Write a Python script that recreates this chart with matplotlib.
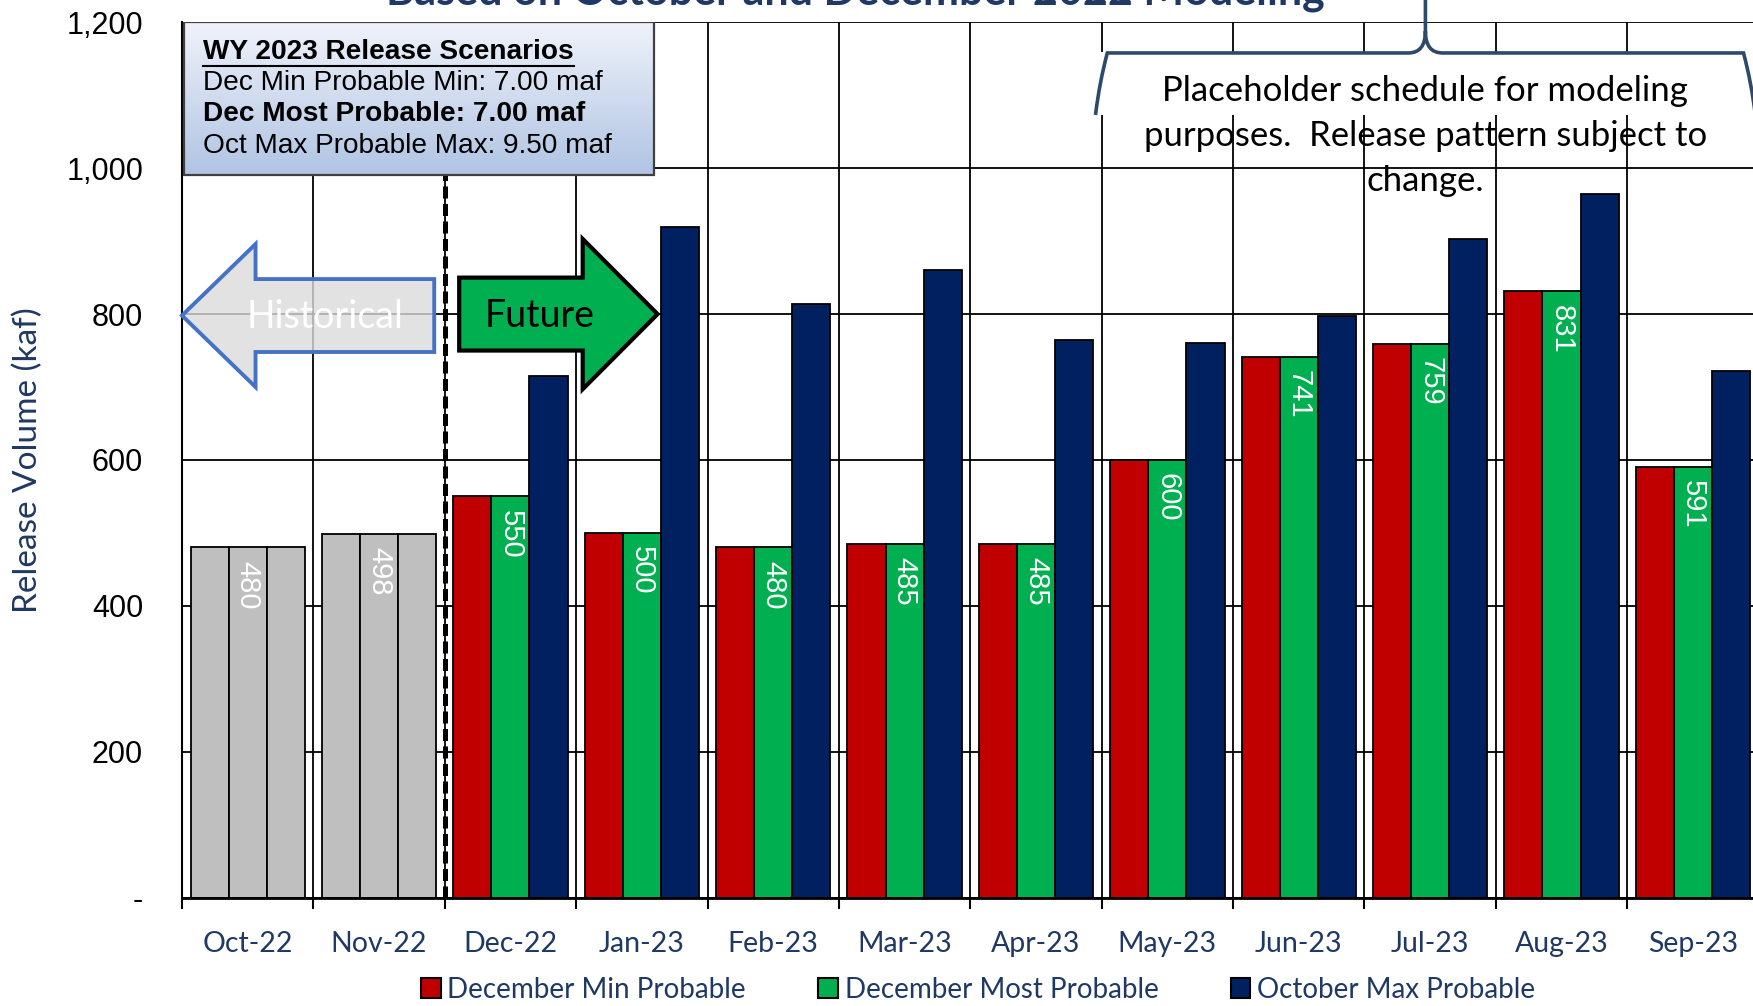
import matplotlib
matplotlib.use('Agg')
import matplotlib.pyplot as plt
import numpy as np
from matplotlib.patches import Polygon, Rectangle, Patch, PathPatch
from matplotlib.path import Path
from matplotlib.ticker import FuncFormatter, FixedLocator

months = ['Oct-22', 'Nov-22', 'Dec-22', 'Jan-23', 'Feb-23', 'Mar-23',
          'Apr-23', 'May-23', 'Jun-23', 'Jul-23', 'Aug-23', 'Sep-23']
hist_vals = [480, 498]
dec_min = [550, 500, 480, 485, 485, 600, 741, 759, 831, 591]
dec_most = [550, 500, 480, 485, 485, 600, 741, 759, 831, 591]
oct_max = [715, 919, 814, 860, 765, 761, 798, 903, 965, 722]
series_names = ['December Min Probable', 'December Most Probable', 'October Max Probable']
series_colors = ['#C00000', '#00B050', '#002060']
box_lines = ['WY 2023 Release Scenarios',
             'Dec Min Probable Min: 7.00 maf',
             'Dec Most Probable: 7.00 maf',
             'Oct Max Probable Max: 9.50 maf']
note = 'Placeholder schedule for modeling\npurposes.  Release pattern subject to\nchange.'

navy = '#1F3864'
arial = ['Liberation Sans', 'DejaVu Sans']
calib = ['Lato', 'DejaVu Sans']

fig = plt.figure(figsize=(17.53, 10.06), dpi=100)
ax = fig.add_axes([0.1038, 0.1078, 0.8994, 0.870])

x = np.arange(len(months)) + 0.5
xh = x[:2]
xf = x[2:]
w = 0.29

# historical months: three grey bars each
for off in (-w, 0, w):
    ax.bar(xh + off, hist_vals, w, color='#BFBFBF', edgecolor='black', lw=1.3, zorder=2)
for xi, v in zip(xh, hist_vals):
    ax.text(xi, v - 18, str(v), rotation=270, ha='center', va='top', color='white',
            fontsize=21, family=arial, zorder=5)

for vals, off, c in zip([dec_min, dec_most, oct_max], (-w, 0, w), series_colors):
    ax.bar(xf + off, vals, w, color=c, edgecolor='black', lw=1.3, zorder=2)
for xi, v in zip(xf, dec_most):
    ax.text(xi, v - 18, str(v), rotation=270, ha='center', va='top', color='white',
            fontsize=21, family=arial, zorder=5)

ax.set_xlim(0, 12)
ax.set_ylim(0, 1200)
ax.xaxis.set_major_locator(FixedLocator(np.arange(13)))
ax.xaxis.set_minor_locator(FixedLocator(x))
ax.set_xticklabels([], minor=False)
ax.set_xticklabels(months, minor=True)
ax.tick_params(axis='x', which='major', length=8, width=1.5, direction='out', color='black')
ax.tick_params(axis='x', which='minor', length=0, pad=24, labelsize=20.5, labelcolor=navy)
for lab in ax.get_xticklabels(minor=True):
    lab.set_family(calib)
ax.set_yticks(np.arange(0, 1201, 200))
ax.yaxis.set_major_formatter(FuncFormatter(lambda v, p: '-' if v == 0 else f'{v:,.0f}'))
ax.tick_params(axis='y', length=0, pad=28, labelsize=22)
for lab in ax.get_yticklabels():
    lab.set_family(arial)
ax.grid(True, which='major', color='black', lw=1.3)
ax.set_axisbelow(True)
for s in ['top', 'right']:
    ax.spines[s].set_visible(False)
ax.spines['left'].set_linewidth(1.5)
ax.spines['bottom'].set_linewidth(2)

ax.set_ylabel('Release Volume (kaf)', fontsize=24, color=navy, family=calib, va='center')
ax.yaxis.set_label_coords(-0.098, 0.5)

# history / future divider
ax.plot([2, 2], [0, 1200], color='black', lw=3.6, dashes=(2.4, 1.1), zorder=3)

def arrow_pts(tail, tip, base, yc, sh, hh):
    return [(tail, yc - sh), (base, yc - sh), (base, yc - hh), (tip, yc),
            (base, yc + hh), (base, yc + sh), (tail, yc + sh)]

ax.add_patch(Polygon(arrow_pts(1.92, 0.0, 0.56, 798, 50, 98), closed=True,
                     facecolor=(0.86, 0.86, 0.86, 0.8), edgecolor='#4472C4', lw=2.8,
                     joinstyle='miter', zorder=4, clip_on=False))
ax.text(1.09, 796, 'Historical', ha='center', va='center', color='white',
        fontsize=27, family=calib, zorder=5)
ax.add_patch(Polygon(arrow_pts(2.11, 3.62, 3.05, 800, 50, 103), closed=True,
                     facecolor='#00B050', edgecolor='black', lw=3,
                     joinstyle='miter', zorder=4))
ax.text(2.72, 797, 'Future', ha='center', va='center', color='black',
        fontsize=27, family=calib, zorder=5)

# scenario box with gradient
bx0, bx1, by0, by1 = 0.017, 3.59, 990, 1200
rect = Rectangle((bx0, by0), bx1 - bx0, by1 - by0, facecolor='none',
                 edgecolor='#404040', lw=1.6, zorder=7)
top_c = np.array([0.94, 0.95, 0.98])
bot_c = np.array([0.69, 0.77, 0.89])
t = np.linspace(0, 1, 100)[:, None, None]
grad = top_c * (1 - t) + bot_c * t
im = ax.imshow(grad, extent=(bx0, bx1, by0, by1), aspect='auto', origin='upper', zorder=6)
ax.add_patch(rect)
im.set_clip_path(rect)
ax.set_xlim(0, 12)
ax.set_ylim(0, 1200)

ys = [1160, 1117, 1074, 1030]
weights = ['bold', 'normal', 'bold', 'normal']
txts = []
for s, yy, wt in zip(box_lines, ys, weights):
    txts.append(ax.text(0.162, yy, s, ha='left', va='center', fontsize=20.2,
                        fontweight=wt, family=arial, color='black', zorder=8))

# bracket note
ax.add_patch(Rectangle((6.95, 1073), 5.3, 86, facecolor='white', edgecolor='none',
                       zorder=1, clip_on=False))
bc = 9.464
lx, rx = 6.953, 2 * bc - 6.953
yb, yl, ytop = 1073, 1158, 1240
verts = [(lx, yb), (lx + 0.03, yl - 40), (lx + 0.09, yl), (bc - 0.13, yl),
         (bc, yl), (bc, yl + 30), (bc, ytop),
         (bc, yl + 30), (bc, yl), (bc + 0.13, yl),
         (rx - 0.09, yl), (rx - 0.03, yl - 40), (rx, yb)]
codes = [Path.MOVETO, Path.CURVE3, Path.CURVE3, Path.LINETO,
         Path.CURVE3, Path.CURVE3, Path.LINETO,
         Path.MOVETO, Path.CURVE3, Path.CURVE3,
         Path.LINETO, Path.CURVE3, Path.CURVE3]
ax.add_patch(PathPatch(Path(verts, codes), facecolor='none', edgecolor='#2E4A6B',
                       lw=2.6, zorder=5, clip_on=False))
ax.text(bc, 1044, note, ha='center', va='center', fontsize=25, family=calib,
        linespacing=1.5, color='black', zorder=5)

fig.text(0.488, 1 - 4 / 1006, 'Based on October and December 2022 Modeling',
         ha='center', va='baseline', fontsize=31, fontweight='bold', color=navy,
         family=calib)

handles = [Patch(facecolor=c, edgecolor='black', lw=1.5) for c in series_colors]
leg = fig.legend(handles, series_names, loc='center', bbox_to_anchor=(0.558, 0.0164),
                 ncol=3, frameon=False, handlelength=0.7, handleheight=0.7,
                 handletextpad=0.25, columnspacing=2.6,
                 prop={'family': calib, 'size': 20})
for tx in leg.get_texts():
    tx.set_color(navy)

# underline box heading
fig.canvas.draw()
bb = txts[0].get_window_extent().transformed(ax.transData.inverted())
ax.plot([bb.x0, bb.x1], [bb.y0 - 2, bb.y0 - 2], color='black', lw=1.5, zorder=8)

fig.savefig('out.png', dpi=100)
